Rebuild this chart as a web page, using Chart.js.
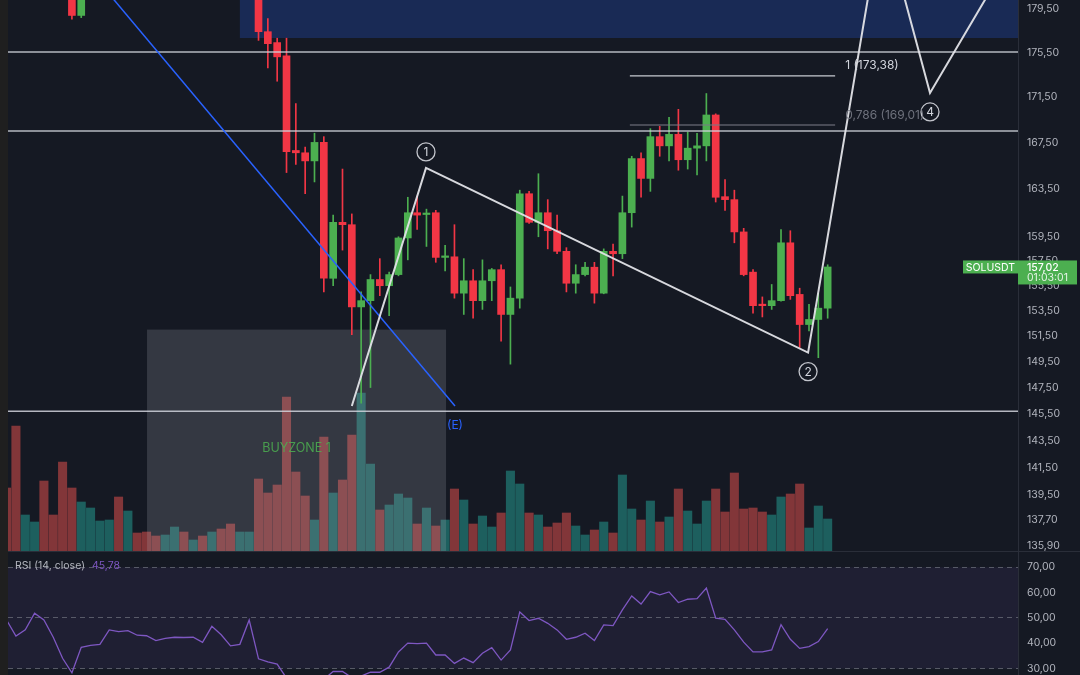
<!DOCTYPE html>
<html>
<head>
<meta charset="utf-8">
<title>SOLUSDT</title>
<script src="https://cdn.jsdelivr.net/npm/chart.js@4.4.1/dist/chart.umd.min.js"></script>
<style>
  html, body { margin: 0; padding: 0; background: #151923; }
  #wrap { width: 1080px; height: 675px; }
</style>
</head>
<body>
<div id="wrap"><canvas id="chart" width="1080" height="675"></canvas></div>
<script>
// one entry per candle, left to right
const opens = [188.0, 186.9, 184.6, 185.3, 185.8, 183.6, 182.9, 181.0, 178.9, 181.5,
  182.6, 183.2, 183.9, 182.4, 183.3, 182.7, 182.2, 181.8, 182.3, 183.0,
  182.4, 182.8, 182.3, 182.7, 182.1, 181.4, 181.9, 182.4, 177.4, 176.4,
  175.2, 166.8, 166.6, 165.9, 167.5, 156.1, 160.7, 160.5, 153.8, 154.3,
  156.0, 155.5, 156.4, 159.4, 161.5, 161.35, 161.5, 157.8, 157.85, 154.9,
  155.9, 154.3, 155.9, 156.8, 153.2, 154.5, 163.1, 160.7, 161.5, 160.0,
  158.3, 155.7, 156.4, 157.0, 154.9, 158.3, 158.1, 161.5, 166.1, 164.4,
  168.0, 167.2, 168.2, 166.0, 167.0, 167.2, 169.9, 162.85, 162.6, 159.9,
  156.6, 154.0, 153.9, 154.3, 159.0, 154.8, 152.4, 152.8, 153.7];
const highs = [188.6, 187.4, 185.9, 186.2, 186.1, 184.0, 183.3, 181.6, 182.0, 183.1,
  183.7, 184.4, 184.3, 183.8, 183.6, 183.0, 182.5, 182.6, 183.3, 183.3,
  183.1, 183.0, 183.0, 182.9, 182.4, 182.2, 182.7, 182.8, 178.6, 176.8,
  176.8, 170.9, 167.1, 168.3, 168.0, 161.3, 165.2, 161.4, 155.0, 156.4,
  157.7, 156.6, 159.5, 162.8, 162.9, 161.8, 161.7, 158.8, 160.5, 157.7,
  156.8, 157.6, 156.9, 157.2, 155.4, 163.4, 163.3, 164.8, 162.6, 161.3,
  158.6, 157.2, 157.4, 157.4, 158.5, 158.9, 162.9, 166.3, 166.6, 168.7,
  168.9, 169.7, 170.4, 168.4, 168.3, 171.8, 170.0, 164.3, 163.4, 160.2,
  156.8, 154.6, 155.6, 160.1, 160.0, 155.3, 154.0, 154.9, 157.2];
const lows = [186.3, 184.0, 184.1, 184.9, 183.1, 182.4, 180.6, 178.55, 178.7, 181.1,
  182.2, 182.8, 182.0, 182.0, 182.3, 181.8, 181.4, 181.5, 182.0, 182.1,
  182.1, 182.0, 182.0, 181.8, 181.1, 181.1, 181.6, 176.6, 174.1, 172.9,
  164.9, 165.6, 163.1, 164.1, 155.0, 155.5, 158.4, 151.6, 146.3, 147.5,
  154.7, 153.1, 156.3, 157.6, 160.1, 158.7, 157.4, 156.7, 154.5, 153.2,
  152.9, 153.6, 154.3, 151.1, 149.3, 153.7, 160.6, 159.5, 158.5, 158.1,
  155.0, 154.9, 156.3, 154.1, 154.85, 156.3, 157.7, 160.3, 162.8, 163.3,
  166.3, 165.9, 165.1, 165.2, 164.7, 165.9, 162.4, 161.7, 159.0, 156.3,
  153.3, 153.0, 153.6, 154.25, 154.4, 150.6, 151.9, 149.8, 152.9];
const closes = [186.9, 184.6, 185.3, 185.8, 183.6, 182.9, 181.0, 178.9, 181.5, 182.6,
  183.2, 183.9, 182.4, 183.3, 182.7, 182.2, 181.8, 182.3, 183.0, 182.4,
  182.8, 182.3, 182.7, 182.1, 181.4, 181.9, 182.4, 177.4, 176.3, 175.1,
  166.7, 166.6, 165.9, 167.5, 156.1, 160.7, 160.5, 153.8, 154.3, 156.0,
  155.5, 156.4, 159.4, 161.5, 161.3, 161.45, 157.8, 157.85, 154.9, 155.9,
  154.3, 155.9, 156.8, 153.2, 154.5, 163.1, 160.7, 161.5, 160.0, 158.3,
  155.7, 156.4, 157.0, 154.9, 158.3, 158.1, 161.5, 166.1, 164.4, 168.0,
  167.2, 168.2, 166.0, 167.0, 167.2, 169.9, 162.8, 162.6, 159.9, 156.4,
  153.9, 153.9, 154.3, 159.0, 154.7, 152.4, 152.8, 153.7, 157.02];
// volume (k)
const volumes = [63, 125, 36, 29, 70, 36, 89, 63, 49, 43,
  30, 31, 54, 40, 18, 19, 15, 16, 24, 19,
  11, 15, 19, 22, 27, 19, 19, 72, 58, 66,
  154, 79, 55, 31, 114, 58, 71, 116, 158, 87,
  41, 46, 57, 53, 27, 43, 25, 31, 62, 51,
  27, 35, 24, 38, 80, 67, 38, 36, 24, 28,
  38, 25, 16, 21, 29, 18, 76, 42, 31, 50,
  29, 34, 62, 40, 27, 50, 62, 39, 78, 42,
  43, 39, 36, 54, 57, 67, 23, 45, 32];
const rsi = [49.2, 42.9, 45.3, 51.9, 49.2, 42.4, 34.1, 28.4, 38.4, 39.2,
  39.6, 45.3, 44.6, 45.0, 43.2, 43.0, 41.1, 42.0, 42.4, 42.3,
  42.4, 40.4, 46.7, 43.4, 39.0, 39.6, 49.2, 33.9, 32.7, 31.8,
  26.3, 24.8, 25.6, 24.2, 25.8, 28.9, 28.9, 26.5, 27.1, 28.6,
  28.6, 30.6, 36.6, 40.1, 39.9, 40.1, 35.4, 35.4, 32.1, 34.2,
  32.4, 36.1, 38.3, 33.4, 37.4, 52.4, 49.0, 49.9, 47.9, 45.3,
  41.6, 42.4, 44.0, 41.1, 47.3, 47.0, 53.2, 58.7, 55.5, 60.4,
  59.1, 60.3, 56.1, 57.4, 57.6, 61.8, 49.9, 49.5, 45.3, 40.5,
  36.6, 36.6, 37.4, 47.4, 41.6, 38.0, 38.7, 40.7, 45.78];

const priceTicks = [179.5, 175.5, 171.5, 167.5, 163.5, 159.5, 157.5, 155.5, 153.5,
  151.5, 149.5, 147.5, 145.5, 143.5, 141.5, 139.5, 137.7, 135.9];
const rsiTicks = [70, 60, 50, 40, 30];
const rsiLevels = [70, 50, 30];

// drawings, in bar index / price units
const levels = [175.55, 168.5, 145.7];
const fibLevels = [173.38, 169.01];
const fibLabels = ['1 (173,38)', '0,786 (169,01)'];
const fibX = [66.8, 88.8];
const waveX = [37.0, 44.95, 85.9, 93.83, 98.97, 107.6];
const waveY = [146.1, 165.3, 150.2, 188.5, 171.85, 184.45];
const waveLabels = ['', '1', '2', '', '4', ''];
const trendX = [5.05, 48.06];
const trendY = [187.2, 146.1];
const supplyX = [25.0, 108.4];
const supplyY = [176.82, 195];
const buyX = [15.05, 47.1];
const buyY = [135.51, 152.0];

const xMin = 0.15, xMax = 108.4;
const UP = '#4caf50', DOWN = '#f23645';
const FONT = 'Inter, "Noto Sans", sans-serif';
const fmt = v => v.toFixed(2).replace('.', ',');

const idx = opens.map((_, i) => i);
const isUp = idx.map(i => closes[i] >= opens[i]);
const pts = (xs, ys) => xs.map((x, i) => ({x: x, y: ys[i]}));

function lineSet(data, color, width, axis, order) {
  return {type: 'line', data: data, yAxisID: axis, borderColor: color, borderWidth: width,
    pointRadius: 0, tension: 0, fill: false, order: order};
}

// axis width fixed, no label overhang padding so panes fill the canvas
function fixAxis(s) {
  s.width = 62;
  s.paddingTop = 0;
  s.paddingBottom = 0;
}

const datasets = [
  {
    type: 'bar', yAxisID: 'vol', order: 20, grouped: false, maxBarThickness: 8.4,
    categoryPercentage: 1, barPercentage: 1,
    data: idx.map(i => ({x: i, y: volumes[i]})),
    backgroundColor: idx.map(i => isUp[i] ? 'rgba(38,166,154,0.5)' : 'rgba(239,83,80,0.5)')
  },
  {
    type: 'bar', yAxisID: 'y', order: 15, grouped: false, maxBarThickness: 1,
    categoryPercentage: 1, barPercentage: 1,
    data: idx.map(i => ({x: i, y: [lows[i], highs[i]]})),
    backgroundColor: idx.map(i => isUp[i] ? UP : DOWN)
  },
  {
    type: 'bar', yAxisID: 'y', order: 14, grouped: false, maxBarThickness: 7, minBarLength: 1.5,
    categoryPercentage: 1, barPercentage: 1,
    data: idx.map(i => ({x: i, y: [opens[i], closes[i]]})),
    backgroundColor: idx.map(i => isUp[i] ? UP : DOWN)
  }
];
levels.forEach(v => datasets.push(lineSet([{x: xMin, y: v}, {x: xMax, y: v}], 'rgba(209,212,220,0.85)', 1.5, 'y', 10)));
datasets.push(lineSet(pts(fibX, [fibLevels[0], fibLevels[0]]), 'rgba(220,222,228,0.9)', 1.2, 'y', 9));
datasets.push(lineSet(pts(fibX, [fibLevels[1], fibLevels[1]]), 'rgba(120,123,134,0.7)', 1.5, 'y', 9));
datasets.push(lineSet(pts(trendX, trendY), '#2962ff', 1.5, 'y', 8));
datasets.push(lineSet(pts(waveX, waveY), 'rgba(225,227,232,0.95)', 2, 'y', 7));
datasets.push(lineSet(idx.map(i => ({x: i, y: rsi[i]})), '#7e57c2', 1.3, 'rsi', 6));

const decor = {
  id: 'decor',
  beforeDraw(chart) {
    const {ctx, chartArea: a} = chart;
    const r = chart.scales.rsi;
    ctx.save();
    ctx.fillStyle = '#151923';
    ctx.fillRect(0, 0, chart.width, chart.height);
    ctx.fillStyle = '#1f1f1f';
    ctx.fillRect(0, 0, a.left, chart.height);
    const t = r.getPixelForValue(rsiLevels[0]);
    const b = r.getPixelForValue(rsiLevels[2]);
    ctx.fillStyle = 'rgba(126,87,194,0.1)';
    ctx.fillRect(a.left, t, a.right - a.left, b - t);
    ctx.restore();
  },
  afterDatasetDraw(chart, args) {
    if (args.index !== 0) return;
    const {ctx} = chart;
    const x = chart.scales.x, y = chart.scales.y;
    const box = (xs, ys, color) => {
      const l = x.getPixelForValue(xs[0]), rr = x.getPixelForValue(xs[1]);
      const t = y.getPixelForValue(ys[1]), b = y.getPixelForValue(ys[0]);
      ctx.fillStyle = color;
      ctx.fillRect(l, t, rr - l, b - t);
    };
    ctx.save();
    box(supplyX, supplyY, 'rgba(41,98,255,0.23)');
    box(buyX, buyY, 'rgba(178,181,190,0.2)');
    ctx.restore();
  },
  afterDatasetsDraw(chart) {
    const {ctx, chartArea: a} = chart;
    const x = chart.scales.x, y = chart.scales.y, r = chart.scales.rsi;
    ctx.save();
    // pane separator
    ctx.strokeStyle = '#2a2e39';
    ctx.lineWidth = 1;
    ctx.beginPath();
    ctx.moveTo(a.left, y.bottom + 0.5);
    ctx.lineTo(chart.width, y.bottom + 0.5);
    ctx.stroke();

    // wave counts
    const offs = [0, -16, 19, 0, 19, 0];
    ctx.textAlign = 'center';
    ctx.textBaseline = 'middle';
    waveLabels.forEach((lab, i) => {
      if (!lab) return;
      const px = x.getPixelForValue(waveX[i]);
      const py = y.getPixelForValue(waveY[i]) + offs[i];
      ctx.beginPath();
      ctx.arc(px, py, 9, 0, Math.PI * 2);
      ctx.strokeStyle = '#c3c5cc';
      ctx.lineWidth = 1.3;
      ctx.stroke();
      ctx.fillStyle = '#d1d4dc';
      ctx.font = '12px ' + FONT;
      ctx.fillText(lab, px, py + 0.5);
    });

    // fib labels
    ctx.textAlign = 'left';
    ctx.font = '12px ' + FONT;
    fibLevels.forEach((v, i) => {
      ctx.fillStyle = i === 0 ? '#d1d4dc' : 'rgba(120,123,134,0.9)';
      ctx.fillText(fibLabels[i], x.getPixelForValue(fibX[1]) + 10, y.getPixelForValue(v) - 10);
    });

    // trend line tag
    ctx.textAlign = 'center';
    ctx.fillStyle = '#2962ff';
    ctx.fillText('(E)', x.getPixelForValue(trendX[1]), y.getPixelForValue(trendY[1]) + 19);

    // buy zone text
    ctx.fillStyle = 'rgba(76,175,80,0.85)';
    ctx.font = '12.5px ' + FONT;
    ctx.fillText('BUYZONE 1', (x.getPixelForValue(buyX[0]) + x.getPixelForValue(buyX[1])) / 2, y.getPixelForValue(142.9));

    // RSI title
    ctx.textAlign = 'left';
    ctx.font = '10.5px ' + FONT;
    ctx.fillStyle = '#b2b5be';
    const title = 'RSI (14, close)';
    ctx.fillText(title, a.left + 7, r.top + 15);
    const tw = ctx.measureText(title).width;
    ctx.fillStyle = '#7e57c2';
    ctx.fillText(fmt(rsi[rsi.length - 1]), a.left + 7 + tw + 7, r.top + 15);

    // last price tag
    const last = closes[closes.length - 1];
    const py = y.getPixelForValue(last);
    ctx.fillStyle = UP;
    ctx.fillRect(a.right - 55, py - 6.5, 55, 13);
    ctx.fillRect(a.right, py - 6.5, 59, 24);
    ctx.fillStyle = '#ffffff';
    ctx.textAlign = 'center';
    ctx.font = '10.5px ' + FONT;
    ctx.fillText('SOLUSDT', a.right - 27.5, py + 0.5);
    ctx.textAlign = 'left';
    ctx.font = '500 10.5px ' + FONT;
    ctx.fillText(fmt(last), a.right + 9, py + 0.5);
    ctx.font = '10.5px ' + FONT;
    ctx.fillStyle = 'rgba(255,255,255,0.85)';
    ctx.fillText('01:03:01', a.right + 9, py + 11);
    ctx.restore();
  }
};

new Chart(document.getElementById('chart'), {
  type: 'bar',
  data: {datasets: datasets},
  options: {
    responsive: false,
    animation: false,
    devicePixelRatio: 1,
    layout: {padding: {left: 8, top: 0, bottom: 0, right: 0}},
    plugins: {legend: {display: false}, tooltip: {enabled: false}},
    scales: {
      x: {type: 'linear', min: xMin, max: xMax, offset: false, display: false, ticks: {stepSize: 10}},
      vol: {type: 'linear', position: 'right', display: false, min: -124, max: 551},
      y: {
        type: 'logarithmic', position: 'right', stack: 'panes', stackWeight: 551,
        min: 135.51, max: 180.34,
        afterBuildTicks: s => { s.ticks = priceTicks.map(v => ({value: v})); },
        afterFit: fixAxis,
        grid: {display: false, drawTicks: false},
        border: {display: true, color: '#2a2e39'},
        ticks: {autoSkip: false, padding: 9, color: '#b2b5be', font: {family: FONT, size: 10.5}, callback: v => fmt(v)}
      },
      rsi: {
        type: 'linear', position: 'right', stack: 'panes', stackWeight: 124,
        min: 27.51, max: 76.43,
        afterBuildTicks: s => { s.ticks = rsiTicks.map(v => ({value: v})); },
        afterFit: fixAxis,
        grid: {
          drawTicks: false, lineWidth: 1,
          color: c => (c.tick && rsiLevels.includes(c.tick.value)) ? 'rgba(120,123,134,0.65)' : 'rgba(0,0,0,0)'
        },
        border: {display: true, color: '#2a2e39', dash: [5, 4]},
        ticks: {autoSkip: false, padding: 9, color: '#b2b5be', font: {family: FONT, size: 10.5}, callback: v => fmt(v)}
      }
    }
  },
  plugins: [decor]
});
</script>
</body>
</html>
